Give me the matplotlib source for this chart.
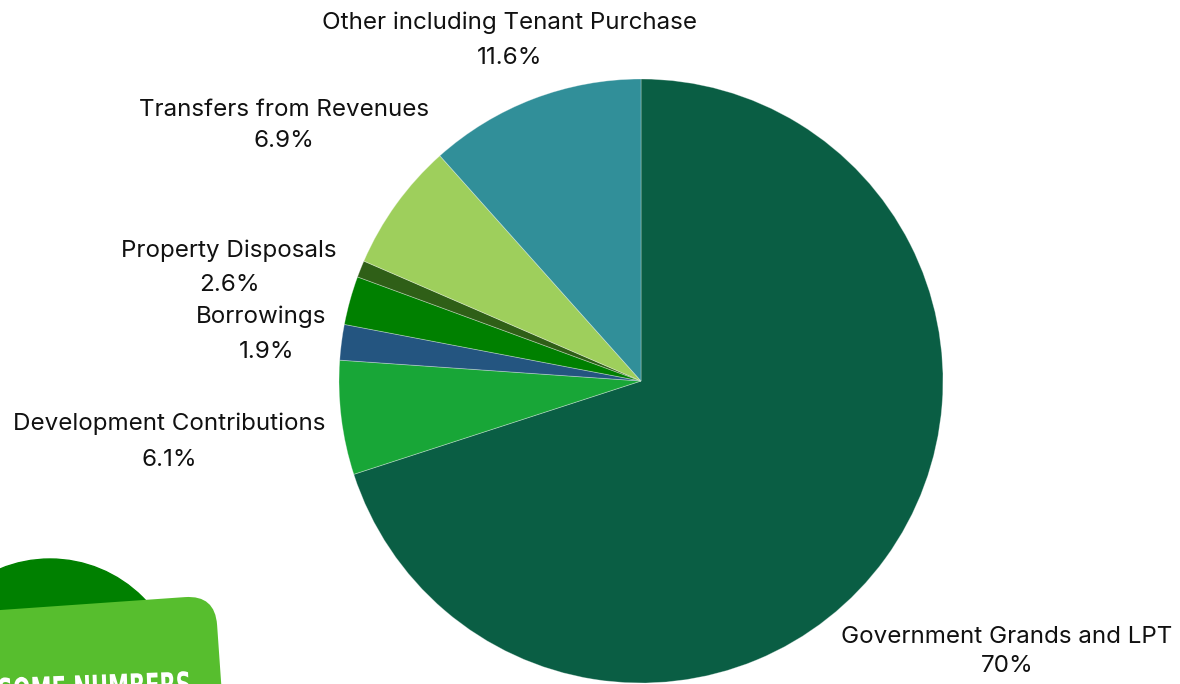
import matplotlib.pyplot as plt
from matplotlib.patches import Circle, FancyBboxPatch, PathPatch
from matplotlib.textpath import TextPath
from matplotlib.font_manager import FontProperties
from matplotlib.transforms import Affine2D

plt.rcParams['font.family'] = ['Inter', 'DejaVu Sans']

# Capital funding sources (percent of total)
sources = [
    "Government Grands and LPT",
    "Development Contributions",
    "Borrowings",
    "Property Disposals",
    "",
    "Transfers from Revenues",
    "Other including Tenant Purchase",
]
shares = [70, 6.1, 1.9, 2.6, 0.9, 6.9, 11.6]
colors = ["#0a5e44", "#18a637", "#245580", "#008000", "#2f5f17", "#9ecf5c", "#318f99"]

W, H = 1180, 684
fig = plt.figure(figsize=(W / 100, H / 100), dpi=100)
ax = fig.add_axes([0, 0, 1, 1])

cx, cy, r = 641, H - 381, 302
ax.pie(shares, colors=colors, startangle=90, counterclock=False,
       center=(cx, cy), radius=r, frame=True,
       wedgeprops=dict(edgecolor=(1, 1, 1, 0.35), linewidth=0.6))
ax.set_xlim(0, W)
ax.set_ylim(0, H)
ax.set_aspect("equal")
ax.axis("off")

# label blocks: (name line xy, value line xy)
label_pos = {
    "Government Grands and LPT": ((1007, 637), (1007, 666)),
    "Development Contributions": ((169, 424), (169, 460)),
    "Borrowings": ((261, 317), (267, 352)),
    "Property Disposals": ((229, 251), (229, 285)),
    "Transfers from Revenues": ((284, 110), (284, 141)),
    "Other including Tenant Purchase": ((510, 23), (510, 58)),
}
for name, val in zip(sources, shares):
    if name not in label_pos:
        continue
    (x1, y1), (x2, y2) = label_pos[name]
    ax.text(x1, H - y1, name, ha="center", va="center", fontsize=17.4, color="#111111")
    ax.text(x2, H - y2, f"{val:g}%", ha="center", va="center", fontsize=17.4, color="#111111")

# decorative badge in the lower-left corner
ax.add_patch(Circle((50, H - 690), 131, color="#008000", zorder=3))
badge = FancyBboxPatch((-60, H - 745), 275, 150,
                       boxstyle="round,pad=0,rounding_size=30",
                       facecolor="#57be2e", edgecolor="none", zorder=4)
badge.set_transform(Affine2D().rotate_deg_around(215, H - 595, 4) + ax.transData)
ax.add_patch(badge)

# condensed heading text, squeezed horizontally
tp = TextPath((0, 0), "LET'S SEE SOME NUMBERS", size=34,
              prop=FontProperties(family="DejaVu Sans", weight="bold"))
bb = tp.get_extents()
sx = 0.62
text_tf = (Affine2D().translate(-bb.x1, -bb.y1).scale(sx, 1.0)
           .rotate_deg(2).translate(189, H - 671))
ax.add_patch(PathPatch(text_tf.transform_path(tp), facecolor="white",
                       edgecolor="none", zorder=5))

fig.savefig("out.png", dpi=100)
